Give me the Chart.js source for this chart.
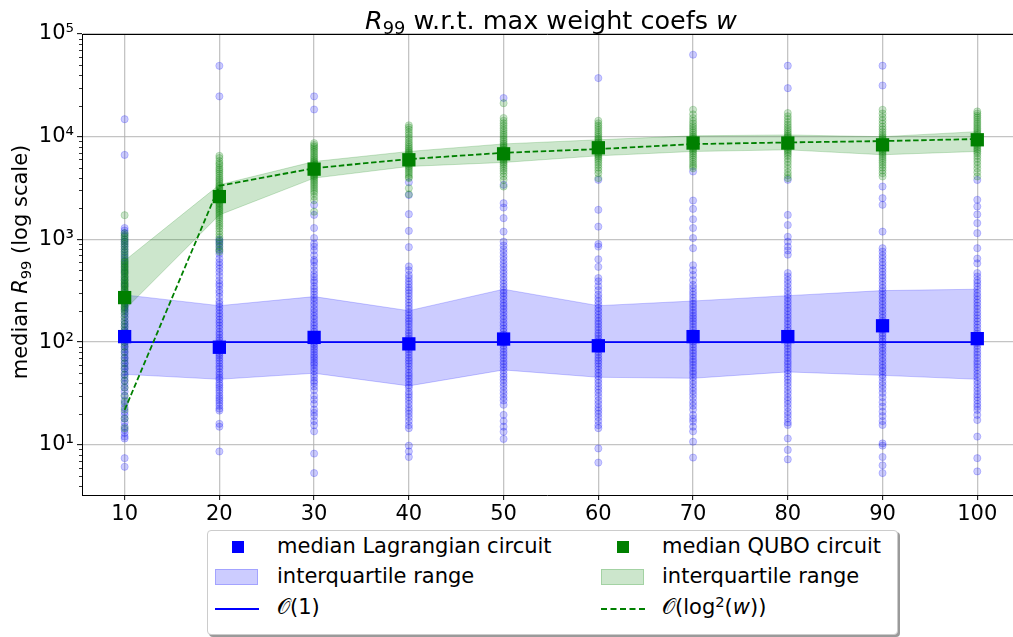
<!DOCTYPE html>
<html>
<head>
<meta charset="utf-8">
<script src="https://cdn.jsdelivr.net/npm/chart.js@4/dist/chart.umd.min.js"></script>
<style>
  html, body { margin: 0; padding: 0; background: #fff; overflow: hidden; }
  body { width: 1013px; height: 637px; position: relative; font-family: "DejaVu Sans", sans-serif; color: #000; }
  #plot { position: absolute; left: 0; top: 0; width: 1013px; height: 530px; }
  .title { position: absolute; left: 301px; top: 7px; width: 500px; text-align: center; font-size: 25.5px; line-height: 26px; white-space: nowrap; }
  .ylabel { position: absolute; left: -130px; top: 250px; width: 300px; text-align: center; font-size: 21px; line-height: 24px; white-space: nowrap; transform: rotate(-90deg); }
  .sub { font-size: 0.7em; position: relative; top: 0.3em; line-height: 0; }
  .sup { font-size: 0.7em; position: relative; top: -0.45em; line-height: 0; }
  .legend { position: absolute; left: 207px; top: 530px; width: 689px; height: 103px; border: 1px solid #cccccc; border-radius: 4px; background: #fff; box-shadow: 2px 2px 0 #9a9a9a; }
  .lbl { position: absolute; font-size: 21px; line-height: 24px; white-space: nowrap; }
  .key { position: absolute; }
</style>
</head>
<body>
<div id="plot"><canvas id="chart"></canvas></div>
<div class="title"><i>R</i><span class="sub">99</span> w.r.t. max weight coefs <i>w</i></div>
<div class="ylabel">median <i>R</i><span class="sub">99</span> (log scale)</div>

<div class="legend"></div>
<div class="key" style="left:232px; top:541px; width:12px; height:12px; background:#0000ff;"></div>
<div class="lbl" style="left:277px; top:534px;">median Lagrangian circuit</div>
<div class="key" style="left:215px; top:569px; width:43px; height:16px; background:rgba(0,0,255,0.2); border:1px solid rgba(0,0,255,0.2); box-sizing:border-box;"></div>
<div class="lbl" style="left:277px; top:564px;">interquartile range</div>
<div class="key" style="left:215px; top:608px; width:44px; height:0; border-top:2px solid #0000ff;"></div>
<div class="lbl" style="left:277px; top:595px;">𝒪(1)</div>

<div class="key" style="left:617px; top:541px; width:12px; height:12px; background:#008000;"></div>
<div class="lbl" style="left:662px; top:534px;">median QUBO circuit</div>
<div class="key" style="left:601px; top:569px; width:43px; height:16px; background:rgba(0,128,0,0.2); border:1px solid rgba(0,128,0,0.2); box-sizing:border-box;"></div>
<div class="lbl" style="left:662px; top:564px;">interquartile range</div>
<div class="key" style="left:601px; top:608px; width:44px; height:0; border-top:2px dashed #008000;"></div>
<div class="lbl" style="left:662px; top:595px;">𝒪(log<span class="sup">2</span>(<i>w</i>))</div>

<script>
// max weight coefficient w (x axis)
const wValues = [10, 20, 30, 40, 50, 60, 70, 80, 90, 100];
const yTickValues = [10, 100, 1000, 10000, 100000];

// medians and quartiles of R99
const lagMedian  = [113, 89, 111, 96, 107, 92, 113, 113, 144, 108];
const lagQ1      = [48.5, 43.4, 49.7, 37.4, 53.5, 45.4, 44.4, 51.2, 47.4, 43.4];
const lagQ3      = [288, 226, 277, 202, 327, 226, 251, 283, 317, 327];
const quboMedian = [271, 2610, 4830, 5960, 6810, 7800, 8670, 8670, 8330, 9330];
const quboQ1     = [206, 1730, 3950, 5130, 5610, 6510, 7180, 7450, 6670, 7180];
const quboQ3     = [620, 3400, 5730, 7180, 8500, 9330, 10200, 10400, 10000, 11200];

// fitted curves
const constFit = [100, 100, 100, 100, 100, 100, 100, 100, 100, 100];
const logFit   = [21.8, 3320, 4940, 6050, 6970, 7570, 8470, 8790, 9060, 9490];

// individual runs, one list per w
const lagrangianRuns = [
  [14800, 6650, 1290, 1220, 1150, 1080, 1000, 950, 900, 850, 800, 750, 700, 660, 620, 580, 540, 500, 470, 430, 400, 370, 350, 320, 300, 280, 260, 240, 220, 205, 190, 175, 160, 150, 140, 130, 125, 118, 100, 95, 90, 85, 80, 75, 70, 66, 62, 58, 55, 51, 48, 45, 42, 39, 36, 33, 30, 27, 25, 23, 21, 19.5, 18, 16.5, 15, 14, 13, 12, 11.5, 7.4, 6.1],
  [49000, 24700, 1000, 950, 900, 840, 780, 720, 650, 600, 560, 520, 480, 440, 400, 370, 350, 320, 300, 275, 250, 235, 220, 205, 190, 178, 165, 155, 145, 135, 125, 118, 110, 104, 98, 93, 88, 83, 78, 74, 70, 66, 62, 58, 55, 51, 48, 45, 43, 40, 38, 36, 34, 32, 30, 28.5, 27, 25.5, 24, 22.5, 21.5, 16, 15, 8.6],
  [24700, 18400, 2170, 1730, 1290, 1030, 910, 850, 780, 700, 630, 600, 550, 500, 460, 430, 400, 380, 350, 330, 310, 290, 270, 250, 230, 210, 195, 180, 168, 155, 145, 135, 126, 118, 111, 105, 100, 95, 90, 85, 80, 75, 71, 67, 63, 60, 56, 52, 48, 45, 42, 40, 37, 34, 30, 27.5, 25, 22, 20.5, 19, 17, 15.5, 13.5, 8.2, 5.3],
  [3600, 2700, 1760, 1210, 840, 545, 500, 450, 420, 390, 365, 340, 320, 300, 280, 260, 242, 225, 210, 195, 182, 170, 160, 150, 140, 130, 122, 115, 108, 100, 95, 90, 85, 80, 75, 70, 66, 62, 58, 54, 50, 47, 44, 41, 38, 36, 33, 31, 29, 27, 25, 23, 21.5, 20, 18.5, 17, 15.5, 14.5, 9.8, 8.6, 7.6],
  [23800, 3400, 2250, 2040, 1610, 1190, 950, 870, 800, 740, 680, 630, 580, 540, 500, 465, 430, 400, 370, 345, 320, 300, 280, 260, 240, 225, 210, 195, 180, 168, 155, 145, 135, 126, 118, 111, 105, 98, 92, 86, 80, 75, 70, 65, 61, 57, 53, 49, 46, 43, 40, 37, 34, 31.5, 29, 27, 24.5, 19.5, 17, 15, 13.4, 11.4],
  [37200, 3800, 1940, 1330, 900, 850, 640, 540, 420, 390, 350, 320, 290, 270, 250, 232, 215, 200, 185, 172, 160, 150, 140, 131, 122, 115, 108, 102, 96, 90, 85, 80, 75, 70, 66, 62, 58, 54, 50, 46.5, 43, 40, 37, 34.5, 32, 29.5, 27, 25, 23, 21.5, 20, 18.5, 17, 15.5, 14.5, 9.2, 6.7],
  [62800, 4580, 2390, 1980, 1570, 1290, 1030, 820, 560, 500, 450, 400, 360, 335, 310, 290, 270, 252, 235, 220, 205, 192, 180, 170, 160, 150, 140, 131, 122, 115, 108, 101, 95, 89, 83, 78, 73, 68, 64, 60, 56, 52, 49, 45.5, 42, 39, 36, 33.5, 31, 28.5, 26, 24, 22, 19.5, 18, 16.8, 15, 13.5, 10.7, 7.5],
  [49100, 29700, 3800, 1730, 1380, 1060, 950, 850, 780, 710, 470, 435, 400, 370, 340, 315, 290, 270, 250, 232, 215, 200, 185, 172, 160, 149, 138, 129, 120, 112, 105, 98, 92, 86, 80, 75, 70, 65, 61, 57, 53, 49.5, 46, 43, 40, 37, 34, 31.5, 29, 27, 25, 23, 21, 19.5, 18, 16.5, 15.6, 11.5, 8.9, 7.2],
  [49100, 31500, 3270, 2520, 2170, 1190, 820, 760, 700, 650, 600, 560, 520, 485, 450, 420, 390, 360, 335, 312, 290, 270, 250, 232, 215, 200, 185, 172, 160, 150, 140, 131, 122, 115, 108, 101, 95, 88, 82, 76, 70, 65, 60, 56, 52, 48, 45, 41, 38, 35, 32, 29, 26, 23.5, 21, 19, 17, 15.6, 10.3, 9.8, 7.6, 6.3, 5.3],
  [3790, 2430, 2090, 1750, 1440, 1150, 820, 650, 585, 470, 435, 400, 375, 350, 325, 300, 280, 260, 242, 225, 210, 195, 182, 170, 159, 148, 138, 128, 120, 112, 105, 98, 92, 86, 80, 75, 70, 65, 61, 57, 53, 49, 45.5, 42, 39, 36, 33.5, 31, 29, 27, 25, 23.4, 21.8, 19.5, 17.4, 12, 7.4, 5.5]
];
const quboRuns = [
  [1720, 1150, 1100, 1050, 1000, 950, 900, 850, 800, 760, 720, 680, 640, 610, 600, 575, 560, 540, 525, 510, 490, 480, 465, 450, 435, 420, 405, 395, 382, 370, 360, 350, 340, 330, 320, 310, 300, 290, 282, 275, 268, 260, 252, 245, 238, 230, 222, 215, 208, 200, 188, 175, 162, 150, 140, 130, 120, 110, 100, 90, 80, 70, 62, 55, 48, 42, 36, 30, 26, 22, 18, 14.5],
  [6510, 6200, 5800, 5500, 5300, 5000, 4800, 4600, 4400, 4200, 4000, 3850, 3700, 3550, 3400, 3300, 3200, 3100, 3000, 2900, 2800, 2700, 2620, 2550, 2480, 2400, 2320, 2250, 2180, 2100, 2020, 1950, 1880, 1800, 1730, 1650, 1580, 1500, 1420, 1350, 1280, 1200, 1120, 1050, 980, 920, 860, 800, 760],
  [8650, 8300, 8000, 7700, 7400, 7100, 6800, 6500, 6250, 6000, 5800, 5650, 5500, 5350, 5200, 5080, 4950, 4830, 4720, 4600, 4480, 4360, 4240, 4120, 4000, 3850, 3700, 3550, 3400, 3250, 3100, 2950, 2800, 2600, 2400, 1860],
  [12900, 12300, 11700, 11000, 10400, 9800, 9300, 8800, 8400, 8000, 7700, 7400, 7150, 6950, 6750, 6550, 6350, 6150, 5980, 5820, 5660, 5500, 5350, 5200, 5050, 4850, 4650, 4450, 4250, 4050, 3950, 3150, 2750],
  [21200, 15200, 14300, 13500, 12800, 12100, 11500, 10900, 10400, 9900, 9400, 9000, 8600, 8300, 8000, 7750, 7500, 7250, 7000, 6800, 6600, 6400, 6200, 6000, 5800, 5600, 5400, 5150, 4900, 4650, 4400, 4100, 3800, 3270],
  [14300, 13500, 12800, 12200, 11600, 11000, 10500, 10000, 9600, 9300, 9000, 8750, 8500, 8250, 8000, 7800, 7600, 7400, 7200, 7000, 6800, 6600, 6400, 6150, 5900, 5600, 5300, 5000, 4700, 4400, 3950],
  [18300, 16500, 15200, 14200, 13400, 12700, 12100, 11500, 11000, 10500, 10100, 9800, 9500, 9200, 8950, 8700, 8450, 8200, 7950, 7700, 7450, 7200, 6900, 6600, 6300, 6000, 5700, 5400, 5150, 4930],
  [17000, 15800, 14800, 13900, 13100, 12400, 11800, 11200, 10700, 10300, 10000, 9700, 9400, 9100, 8850, 8600, 8350, 8100, 7850, 7600, 7350, 7100, 6800, 6500, 6100, 5700, 5300, 4900, 4500, 4200, 3950],
  [18300, 16800, 15500, 14400, 13400, 12500, 11800, 11100, 10500, 10000, 9700, 9400, 9100, 8800, 8550, 8300, 8050, 7800, 7550, 7300, 7050, 6800, 6500, 6200, 5900, 5600, 5300, 5000, 4700, 4400, 4100],
  [17600, 16800, 16000, 15300, 14600, 13900, 13300, 12700, 12100, 11600, 11100, 10700, 10300, 9950, 9600, 9300, 9000, 8700, 8400, 8100, 7800, 7500, 7200, 6900, 6500, 6100, 5700, 5300, 4900, 4500, 4100]
];

const superscripts = { 0: '⁰', 1: '¹', 2: '²', 3: '³', 4: '⁴', 5: '⁵' };

function seriesPoints(values) {
  return values.map(function(v, i) { return { x: wValues[i], y: v }; });
}

function runPoints(runs) {
  let res = [];
  runs.forEach(function(vals, i) {
    vals.forEach(function(v) { res.push({ x: wValues[i], y: v }); });
  });
  return res;
}

// minor log ticks on the y axis and the top spine
const axisExtras = {
  id: 'axisExtras',
  afterDraw(chart) {
    const y = chart.scales.y;
    const area = chart.chartArea;
    const ctx = chart.ctx;
    ctx.save();
    ctx.strokeStyle = '#000';
    ctx.lineWidth = 0.8;
    ctx.beginPath();
    for (let d = 1; d <= 10000; d *= 10) {
      for (let m = 2; m <= 9; m++) {
        const v = m * d;
        if (v < y.min || v > y.max) continue;
        const py = Math.round(y.getPixelForValue(v)) + 0.5;
        ctx.moveTo(area.left - 3, py);
        ctx.lineTo(area.left, py);
      }
    }
    ctx.stroke();
    ctx.lineWidth = 1;
    ctx.beginPath();
    ctx.moveTo(area.left, Math.round(area.top) + 0.5);
    ctx.lineTo(area.right, Math.round(area.top) + 0.5);
    ctx.stroke();
    ctx.restore();
  }
};

const tickFont = { family: 'DejaVu Sans', size: 21 };
const gridColor = 'rgba(176,176,176,0.75)';

const chart = new Chart(document.getElementById('chart').getContext('2d'), {
  type: 'scatter'
, data: {
    datasets: [
      { data: seriesPoints(quboMedian), order: 0, pointStyle: 'rect', pointRadius: 9.4, backgroundColor: '#008000', borderWidth: 0 }
    , { data: seriesPoints(lagMedian), order: 1, pointStyle: 'rect', pointRadius: 9.4, backgroundColor: '#0000ff', borderWidth: 0 }
    , { type: 'line', data: seriesPoints(logFit), order: 2, borderColor: '#008000', borderWidth: 1.8, borderDash: [5.5, 2.6], pointRadius: 0, fill: false, tension: 0 }
    , { type: 'line', data: seriesPoints(constFit), order: 3, borderColor: '#0000ff', borderWidth: 1.8, pointRadius: 0, fill: false, tension: 0 }
    , { type: 'line', data: seriesPoints(quboQ3), order: 4, borderColor: 'rgba(0,128,0,0.2)', backgroundColor: 'rgba(0,128,0,0.2)', borderWidth: 1, pointRadius: 0, fill: '+1', tension: 0 }
    , { type: 'line', data: seriesPoints(quboQ1), order: 4, borderColor: 'rgba(0,128,0,0.2)', borderWidth: 1, pointRadius: 0, fill: false, tension: 0 }
    , { type: 'line', data: seriesPoints(lagQ3), order: 6, borderColor: 'rgba(0,0,255,0.2)', backgroundColor: 'rgba(0,0,255,0.2)', borderWidth: 1, pointRadius: 0, fill: '+1', tension: 0 }
    , { type: 'line', data: seriesPoints(lagQ1), order: 6, borderColor: 'rgba(0,0,255,0.2)', borderWidth: 1, pointRadius: 0, fill: false, tension: 0 }
    , { data: runPoints(quboRuns), order: 8, pointRadius: 3.6, backgroundColor: 'rgba(0,128,0,0.2)', borderColor: 'rgba(0,128,0,0.2)', borderWidth: 1 }
    , { data: runPoints(lagrangianRuns), order: 9, pointRadius: 3.6, backgroundColor: 'rgba(0,0,255,0.2)', borderColor: 'rgba(0,0,255,0.2)', borderWidth: 1 }
    ]
  }
, options: {
    responsive: true
  , maintainAspectRatio: false
  , animation: false
  , events: []
  , devicePixelRatio: 1
  , layout: { autoPadding: false, padding: { top: 34, left: 0, right: 0, bottom: 0 } }
  , plugins: { legend: { display: false }, tooltip: { enabled: false } }
  , scales: {
      x: {
        type: 'linear'
      , min: 5.5
      , max: 103.77
      , afterBuildTicks: function(scale) { scale.ticks = wValues.map(function(v) { return { value: v }; }); }
      , afterFit: function(scale) { scale.height = 35; }
      , ticks: { font: tickFont, color: '#000', padding: 2, maxRotation: 0, autoSkip: false }
      , grid: { color: gridColor, lineWidth: 1.3, tickColor: '#000', tickWidth: 1, tickLength: 5 }
      , border: { color: '#000', width: 1 }
      }
    , y: {
        type: 'logarithmic'
      , min: 3.24
      , max: 100000
      , afterBuildTicks: function(scale) { scale.ticks = yTickValues.map(function(v) { return { value: v, major: true }; }); }
      , afterFit: function(scale) { scale.width = 82; }
      , ticks: {
          font: tickFont
        , color: '#000'
        , padding: 3
        , callback: function(value) { return '10' + superscripts[Math.round(Math.log10(value))]; }
        }
      , grid: { color: gridColor, lineWidth: 1.3, tickColor: '#000', tickWidth: 1, tickLength: 5 }
      , border: { color: '#000', width: 1 }
      }
    }
  }
, plugins: [axisExtras]
});
</script>
</body>
</html>
